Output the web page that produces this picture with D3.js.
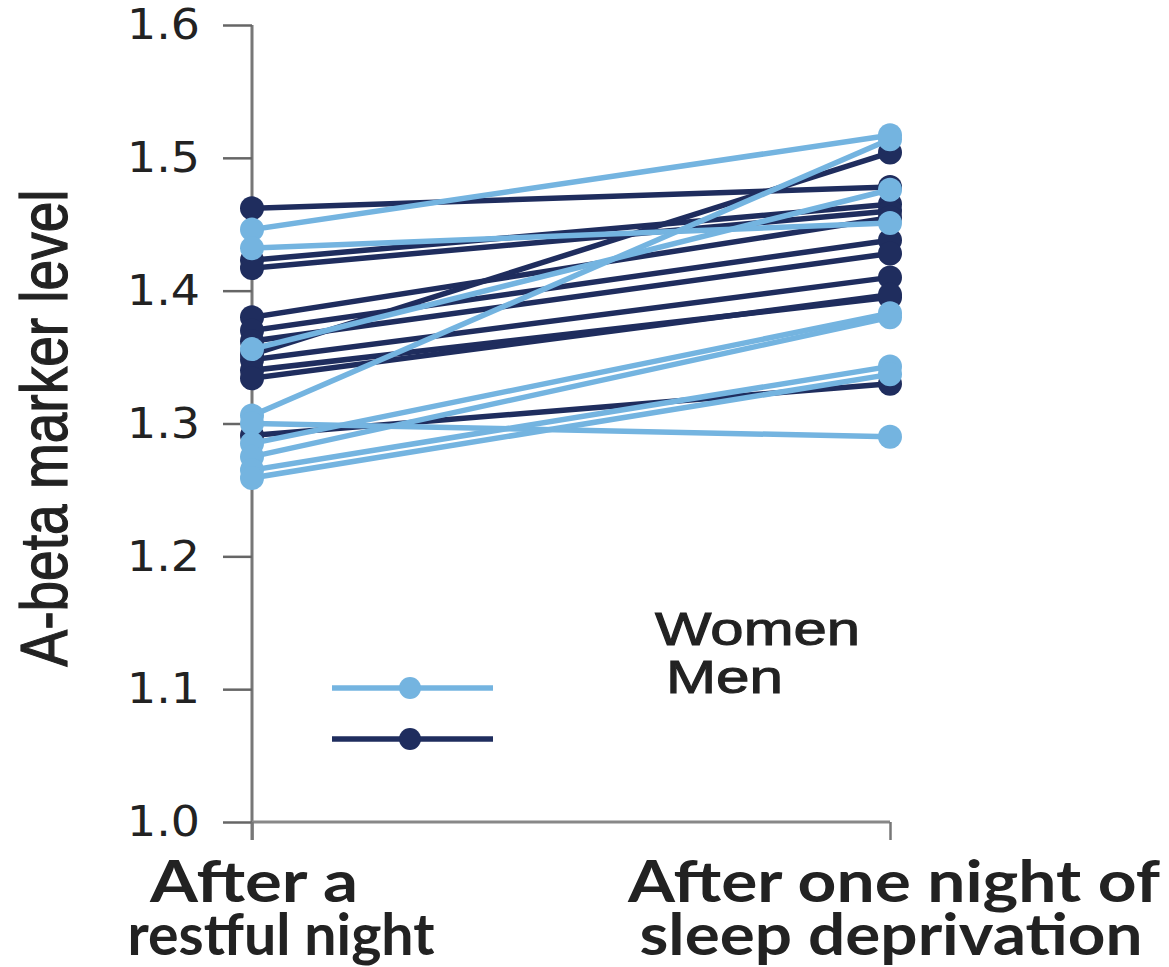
<!DOCTYPE html>
<html>
<head>
<meta charset="utf-8">
<script src="https://cdn.jsdelivr.net/npm/d3@7"></script>
<style>
  html, body { margin: 0; padding: 0; background: #ffffff; }
  svg { display: block; }
</style>
</head>
<body>
<div id="chart"></div>
<script>
// ---- data ----
const categories = ["After a restful night", "After one night of sleep deprivation"];
const categoryLines = [["After a", "restful night"], ["After one night of", "sleep deprivation"]];
const yTickValues = [1.0, 1.1, 1.2, 1.3, 1.4, 1.5, 1.6];
const yTitle = "A-beta marker level";
const seriesNames = ["Women", "Men"];

const womenBefore = [1.446, 1.432, 1.356, 1.306, 1.300, 1.285, 1.275, 1.265, 1.259];
const womenAfter  = [1.517, 1.451, 1.476, 1.514, 1.290, 1.383, 1.380, 1.343, 1.337];
const menBefore   = [1.462, 1.423, 1.417, 1.380, 1.370, 1.352, 1.362, 1.348, 1.340, 1.334, 1.291];
const menAfter    = [1.478, 1.465, 1.460, 1.455, 1.438, 1.504, 1.428, 1.410, 1.395, 1.397, 1.330];

// ---- layout ----
const W = 1169, H = 967;
const colors = { Women: "#74b4e0", Men: "#1f2d5e" };

const svg = d3.select("#chart").append("svg").attr("width", W).attr("height", H);

const x = d3.scalePoint().domain(categories).range([252, 890]);
const y = d3.scaleLinear().domain([1.0, 1.6]).range([822, 25]);

// y axis
const yAxis = svg.append("g").attr("transform", `translate(${x(categories[0])},0)`)
  .call(d3.axisLeft(y).tickValues(yTickValues).tickSize(29).tickPadding(23).tickFormat(d3.format(".1f")));
yAxis.select(".domain").attr("stroke", "#777").attr("stroke-width", 3)
  .attr("d", `M0,${y(1.6)}V${y(1.0) + 18}`);
yAxis.selectAll(".tick line").attr("stroke", "#666").attr("stroke-width", 2.5);
yAxis.selectAll(".tick text")
  .attr("fill", "#222").style("font-family", "DejaVu Sans").style("font-size", "43px")
  .attr("textLength", 73).attr("lengthAdjust", "spacingAndGlyphs");

// x axis
const xAxis = svg.append("g").attr("transform", `translate(0,${y(1.0)})`)
  .call(d3.axisBottom(x).tickSize(18).tickFormat(""));
xAxis.select(".domain").attr("stroke", "#888").attr("stroke-width", 3)
  .attr("d", `M${x(categories[0])},0H${x(categories[1])}`);
xAxis.selectAll(".tick line").attr("stroke", "#777").attr("stroke-width", 2.5);

// x category labels
const xLabelCenters = [[254, 281], [894, 891]];
const xLabelWidths = [[208, 307], [532, 503]];
categoryLines.forEach((lines, i) => {
  lines.forEach((ln, j) => {
    svg.append("text")
      .attr("x", xLabelCenters[i][j]).attr("y", 902 + j * 53)
      .attr("text-anchor", "middle")
      .attr("fill", "#222")
      .style("font-family", "Lato").style("font-weight", "bold").style("font-size", "58px")
      .attr("textLength", xLabelWidths[i][j]).attr("lengthAdjust", "spacingAndGlyphs")
      .text(ln);
  });
});

// y title
svg.append("text")
  .attr("transform", `translate(67,428) rotate(-90)`)
  .attr("text-anchor", "middle")
  .attr("fill", "#222").attr("stroke", "#222").attr("stroke-width", 1.2)
  .style("font-family", "Liberation Sans").style("font-size", "66px")
  .attr("textLength", 477).attr("lengthAdjust", "spacingAndGlyphs")
  .text(yTitle);

// data
function drawGroup(name, before, after) {
  const g = svg.append("g");
  const pairs = before.map((b, i) => [b, after[i]]);
  g.selectAll("line").data(pairs).join("line")
    .attr("x1", x(categories[0])).attr("x2", x(categories[1]))
    .attr("y1", d => y(d[0])).attr("y2", d => y(d[1]))
    .attr("stroke", colors[name]).attr("stroke-width", 5.5);
  const pts = [];
  pairs.forEach(d => { pts.push([categories[0], d[0]]); pts.push([categories[1], d[1]]); });
  g.selectAll("circle").data(pts).join("circle")
    .attr("cx", d => x(d[0])).attr("cy", d => y(d[1])).attr("r", 12)
    .attr("fill", colors[name]);
}
drawGroup("Men", menBefore, menAfter);
drawGroup("Women", womenBefore, womenAfter);

// legend
const legendY = [688, 739];
seriesNames.forEach((s, i) => {
  svg.append("line").attr("x1", 332).attr("x2", 493).attr("y1", legendY[i]).attr("y2", legendY[i])
    .attr("stroke", colors[s]).attr("stroke-width", 5.5);
  svg.append("circle").attr("cx", 410).attr("cy", legendY[i]).attr("r", 11).attr("fill", colors[s]);
});
const legendTextPos = [[655, 645, 205], [666, 693, 117]];
seriesNames.forEach((s, i) => {
  svg.append("text").attr("x", legendTextPos[i][0]).attr("y", legendTextPos[i][1])
    .attr("fill", "#222").attr("stroke", "#222").attr("stroke-width", 1)
    .style("font-family", "Liberation Sans").style("font-size", "46px")
    .attr("textLength", legendTextPos[i][2]).attr("lengthAdjust", "spacingAndGlyphs")
    .text(s);
});
</script>
</body>
</html>
